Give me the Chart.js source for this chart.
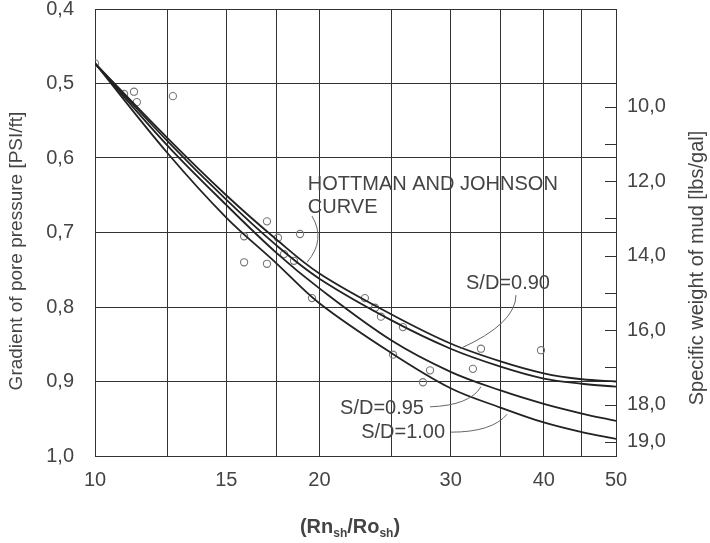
<!DOCTYPE html>
<html>
<head>
<meta charset="utf-8">
<script src="https://cdn.jsdelivr.net/npm/chart.js@4.4.1/dist/chart.umd.min.js"></script>
<style>
  html, body { margin: 0; padding: 0; background: #fff; }
  #wrap { width: 710px; height: 543px; }
</style>
</head>
<body>
<div id="wrap"><canvas id="chart"></canvas></div>
<script>
// Axes
const ratioGrid = [10, 12.5, 15, 17.5, 20, 25, 30, 35, 40, 45, 50];
const ratioLabels = [10, 15, 20, 30, 40, 50];
const gradientTicks = [0.4, 0.5, 0.6, 0.7, 0.8, 0.9, 1.0];
const mudTicks = [10, 11, 12, 13, 14, 15, 16, 17, 18, 19];
const mudLabels = [10, 12, 14, 16, 18, 19];

// Curves, read at the vertical grid lines
const curveX = [10, 12.5, 15, 17.5, 20, 25, 30, 35, 40, 45, 50];
const sd090 = [0.473, 0.573, 0.650, 0.709, 0.755, 0.810, 0.849, 0.873, 0.889, 0.897, 0.900];
const hottmanJohnson = [0.473, 0.577, 0.656, 0.717, 0.762, 0.818, 0.856, 0.880, 0.896, 0.903, 0.907];
const sd095 = [0.473, 0.583, 0.663, 0.727, 0.775, 0.845, 0.887, 0.912, 0.930, 0.943, 0.953];
const sd100 = [0.473, 0.593, 0.680, 0.741, 0.795, 0.862, 0.909, 0.935, 0.955, 0.968, 0.977];

// Measured wells
const wellRatio = [10.0, 10.94, 11.28, 11.38, 12.72, 17.01, 15.85, 17.60, 18.84, 17.93, 18.49, 15.85,
  17.01, 19.55, 23.02, 23.75, 24.19, 25.89, 25.11, 28.15, 27.54, 32.14, 32.95, 39.66];
const wellGradient = [0.473, 0.514, 0.511, 0.525, 0.517, 0.685, 0.705, 0.707, 0.702, 0.729, 0.738, 0.740,
  0.742, 0.788, 0.788, 0.801, 0.813, 0.827, 0.864, 0.885, 0.901, 0.883, 0.856, 0.858];

// Callout labels and their leader lines (data units)
const calloutText = [
  { lines: ['HOTTMAN AND JOHNSON', 'CURVE'], x: 19.3, y: 0.636, align: 'left' },
  { lines: ['S/D=0.90'], x: 31.46, y: 0.768, align: 'left' },
  { lines: ['S/D=0.95'], x: 27.63, y: 0.936, align: 'right' },
  { lines: ['S/D=1.00'], x: 29.49, y: 0.968, align: 'right' },
];
const calloutLeaders = [
  [[19.55, 0.678], [20.42, 0.710], [19.25, 0.740]],
  [[36.71, 0.784], [36.71, 0.822], [30.88, 0.856]],
  [[28.15, 0.934], [31.85, 0.932], [32.95, 0.907]],
  [[30.03, 0.968], [34.09, 0.968], [35.71, 0.944]],
];

const FONT = '"Liberation Sans", Arial, sans-serif';
const TEXT = '#444';
const GRID = '#333';

const pts = (ys) => curveX.map((x, i) => ({ x, y: ys[i] }));
const curve = (label, ys) => ({
  type: 'line',
  label,
  data: pts(ys),
  borderColor: '#222',
  borderWidth: 1.8,
  pointRadius: 0,
  fill: false,
  tension: 0.35,
});

const decoration = {
  id: 'decoration',
  afterDraw(chart) {
    const { ctx, scales: { x, y, y2 }, chartArea: area } = chart;
    const at = (p) => [x.getPixelForValue(p[0]), y.getPixelForValue(p[1])];
    ctx.save();

    // inward ticks on the mud-weight axis
    ctx.strokeStyle = GRID;
    ctx.lineWidth = 1;
    mudTicks.forEach(v => {
      const py = Math.round(y2.getPixelForValue(v)) + 0.5;
      ctx.beginPath();
      ctx.moveTo(area.right - 11, py);
      ctx.lineTo(area.right, py);
      ctx.stroke();
    });

    // leaders
    ctx.strokeStyle = '#666';
    ctx.lineWidth = 1;
    calloutLeaders.forEach(l => {
      const [a, c, b] = l.map(at);
      ctx.beginPath();
      ctx.moveTo(a[0], a[1]);
      ctx.quadraticCurveTo(c[0], c[1], b[0], b[1]);
      ctx.stroke();
    });

    // callout text
    ctx.fillStyle = TEXT;
    ctx.font = '20px ' + FONT;
    ctx.textBaseline = 'middle';
    calloutText.forEach(t => {
      const [px, py] = at([t.x, t.y]);
      ctx.textAlign = t.align;
      t.lines.forEach((s, i) => ctx.fillText(s, px, py + i * 23));
    });

    // axis titles
    ctx.textAlign = 'center';
    ctx.font = '19px ' + FONT;
    ctx.save();
    ctx.translate(17, 251);
    ctx.rotate(-Math.PI / 2);
    ctx.fillText('Gradient of pore pressure [PSI/ft]', 0, 0);
    ctx.restore();

    ctx.font = '20px ' + FONT;
    ctx.save();
    ctx.translate(697, 268);
    ctx.rotate(-Math.PI / 2);
    ctx.fillText('Specific weight of mud [lbs/gal]', 0, 0);
    ctx.restore();

    // (Rn_sh / Ro_sh)
    const parts = [['(Rn', false], ['sh', true], ['/Ro', false], ['sh', true], [')', false]];
    const big = 'bold 20px ' + FONT, small = 'bold 12px ' + FONT;
    let w = 0;
    parts.forEach(([s, sub]) => { ctx.font = sub ? small : big; w += ctx.measureText(s).width; });
    let cx = 350 - w / 2;
    ctx.textAlign = 'left';
    ctx.textBaseline = 'alphabetic';
    parts.forEach(([s, sub]) => {
      ctx.font = sub ? small : big;
      ctx.fillText(s, cx, sub ? 537 : 533);
      cx += ctx.measureText(s).width;
    });
    ctx.restore();
  },
};

new Chart(document.getElementById('chart'), {
  data: {
    datasets: [
      curve('S/D=0.90', sd090),
      curve('Hottman and Johnson', hottmanJohnson),
      curve('S/D=0.95', sd095),
      curve('S/D=1.00', sd100),
      {
        type: 'scatter',
        label: 'Wells',
        data: wellRatio.map((x, i) => ({ x, y: wellGradient[i] })),
        pointRadius: 3.6,
        pointBorderWidth: 1.1,
        pointBorderColor: '#777',
        pointBackgroundColor: 'rgba(255,255,255,0)',
      },
    ],
  },
  options: {
    responsive: true,
    maintainAspectRatio: false,
    animation: false,
    layout: { padding: { top: 9, left: 0, right: 0, bottom: 0 } },
    plugins: { legend: { display: false }, tooltip: { enabled: false } },
    scales: {
      x: {
        type: 'logarithmic',
        position: 'bottom',
        min: 10,
        max: 50,
        afterBuildTicks: s => { s.ticks = ratioGrid.map(v => ({ value: v })); },
        afterFit: s => { s.height = 87; s.paddingLeft = 0; s.paddingRight = 0; },
        grid: { color: GRID, lineWidth: 1, drawTicks: false },
        border: { color: GRID },
        ticks: {
          autoSkip: false,
          maxRotation: 0,
          padding: 12,
          color: TEXT,
          font: { family: FONT, size: 20 },
          callback: v => ratioLabels.includes(v) ? String(v) : '',
        },
      },
      y: {
        type: 'linear',
        position: 'left',
        min: 0.4,
        max: 1.0,
        reverse: true,
        afterBuildTicks: s => { s.ticks = gradientTicks.map(v => ({ value: v })); },
        afterFit: s => { s.width = 95; s.paddingTop = 0; s.paddingBottom = 0; },
        grid: { color: GRID, lineWidth: 1, drawTicks: false },
        border: { color: GRID },
        ticks: {
          padding: 21,
          color: TEXT,
          font: { family: FONT, size: 20 },
          callback: v => v.toFixed(1).replace('.', ','),
        },
      },
      y2: {
        type: 'linear',
        position: 'right',
        min: 7.38,
        max: 19.38,
        reverse: true,
        afterBuildTicks: s => { s.ticks = mudTicks.map(v => ({ value: v })); },
        afterFit: s => { s.width = 94; s.paddingTop = 0; s.paddingBottom = 0; },
        grid: { drawOnChartArea: false, drawTicks: false },
        border: { display: false },
        ticks: {
          padding: 11,
          color: TEXT,
          font: { family: FONT, size: 20 },
          callback: v => mudLabels.includes(v) ? v.toFixed(1).replace('.', ',') : '',
        },
      },
    },
  },
  plugins: [decoration],
});
</script>
</body>
</html>
